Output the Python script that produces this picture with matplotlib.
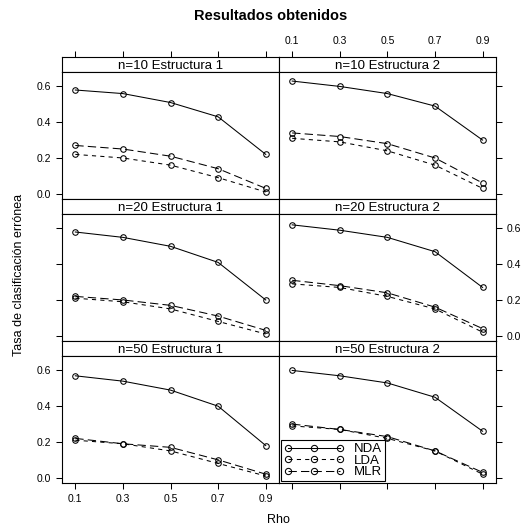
import matplotlib
matplotlib.use("Agg")
import matplotlib.pyplot as plt
from matplotlib.lines import Line2D

plt.rcParams['font.family'] = ['Liberation Sans', 'DejaVu Sans']
plt.rcParams['lines.scale_dashes'] = False

rho = [0.1, 0.3, 0.5, 0.7, 0.9]
metodos = ["NDA", "LDA", "MLR"]

# filas: n=10, n=20, n=50 ; columnas: Estructura 1, Estructura 2
titulos = [["n=10 Estructura 1", "n=10 Estructura 2"],
           ["n=20 Estructura 1", "n=20 Estructura 2"],
           ["n=50 Estructura 1", "n=50 Estructura 2"]]

nda_10_e1 = [0.58, 0.56, 0.51, 0.43, 0.22]
lda_10_e1 = [0.22, 0.20, 0.16, 0.09, 0.01]
mlr_10_e1 = [0.27, 0.25, 0.21, 0.14, 0.03]

nda_10_e2 = [0.63, 0.60, 0.56, 0.49, 0.30]
lda_10_e2 = [0.31, 0.29, 0.24, 0.16, 0.03]
mlr_10_e2 = [0.34, 0.32, 0.28, 0.20, 0.06]

nda_20_e1 = [0.58, 0.55, 0.50, 0.41, 0.20]
lda_20_e1 = [0.21, 0.19, 0.15, 0.08, 0.01]
mlr_20_e1 = [0.22, 0.20, 0.17, 0.11, 0.03]

nda_20_e2 = [0.62, 0.59, 0.55, 0.47, 0.27]
lda_20_e2 = [0.29, 0.27, 0.22, 0.15, 0.02]
mlr_20_e2 = [0.31, 0.28, 0.24, 0.16, 0.04]

nda_50_e1 = [0.57, 0.54, 0.49, 0.40, 0.18]
lda_50_e1 = [0.21, 0.19, 0.15, 0.08, 0.01]
mlr_50_e1 = [0.22, 0.19, 0.17, 0.10, 0.02]

nda_50_e2 = [0.60, 0.57, 0.53, 0.45, 0.26]
lda_50_e2 = [0.29, 0.27, 0.22, 0.15, 0.02]
mlr_50_e2 = [0.30, 0.27, 0.23, 0.15, 0.03]

datos = [[(nda_10_e1, lda_10_e1, mlr_10_e1), (nda_10_e2, lda_10_e2, mlr_10_e2)],
         [(nda_20_e1, lda_20_e1, mlr_20_e1), (nda_20_e2, lda_20_e2, mlr_20_e2)],
         [(nda_50_e1, lda_50_e1, mlr_50_e1), (nda_50_e2, lda_50_e2, mlr_50_e2)]]

estilos = [dict(linestyle='-'),
           dict(linestyle=(0, (3, 3))),
           dict(linestyle=(0, (6, 3)))]

W, H = 523, 529
fig = plt.figure(figsize=(W / 100, H / 100), dpi=100)

izq, der = 62, 495.7
arriba = 57.3
alto_fila = 142
alto_strip = 15
ancho_col = (der - izq) / 2

xlim = (0.044, 0.955)
ylim = (-0.031, 0.679)
yticks = [0.0, 0.2, 0.4, 0.6]
tick_kw = dict(direction='out', length=4.3, width=0.75, labelsize=7.5, pad=3.5)

def caja(x0, y0, w, h):
    return [x0 / W, 1 - (y0 + h) / H, w / W, h / H]

for i in range(3):
    for j in range(2):
        x0 = izq + j * ancho_col
        y_strip = arriba + i * alto_fila
        sax = fig.add_axes(caja(x0, y_strip, ancho_col, alto_strip))
        ax = fig.add_axes(caja(x0, y_strip + alto_strip, ancho_col, alto_fila - alto_strip))

        for sp in list(sax.spines.values()) + list(ax.spines.values()):
            sp.set_linewidth(0.8)
            sp.set_color('black')

        sax.set_xlim(xlim)
        sax.set_yticks([])
        sax.text(0.5, 0.45, titulos[i][j], transform=sax.transAxes,
                 ha='center', va='center', fontsize=9.5)
        if i == 0:
            sax.set_xticks(rho)
            sax.set_xticklabels([str(r) for r in rho])
            sax.tick_params(axis='x', top=True, bottom=False, labeltop=(j == 1),
                            labelbottom=False, **tick_kw)
        else:
            sax.set_xticks([])

        for serie, est in zip(datos[i][j], estilos):
            ax.plot(rho, serie, color='black', lw=0.75, marker='o', markersize=4,
                    markerfacecolor='none', markeredgewidth=0.75, **est)

        ax.set_xlim(xlim)
        ax.set_ylim(ylim)
        ax.set_xticks(rho)
        ax.set_xticklabels([str(r) for r in rho])
        ax.set_yticks(yticks)
        ax.set_yticklabels(["0.0", "0.2", "0.4", "0.6"])

        abajo = (i == 2)
        ax.tick_params(axis='x', bottom=abajo, top=False,
                       labelbottom=(abajo and j == 0), labeltop=False, **tick_kw)
        if j == 0:
            ax.tick_params(axis='y', left=True, right=False,
                           labelleft=(i != 1), labelright=False, **tick_kw)
        else:
            ax.tick_params(axis='y', left=False, right=True,
                           labelleft=False, labelright=(i == 1), **tick_kw)

        if i == 2 and j == 1:
            handles = [Line2D([], [], color='black', lw=0.75, marker='o', markersize=4.5,
                              markerfacecolor='none', markeredgewidth=0.75, **est)
                       for est in estilos]
            leg = ax.legend(handles, metodos, loc='lower left', numpoints=3,
                            handlelength=4.6, handletextpad=0.7, labelspacing=-0.05,
                            borderpad=0.22, borderaxespad=0.15, fontsize=9.5,
                            frameon=True, fancybox=False, framealpha=1,
                            edgecolor='black')
            leg.get_frame().set_linewidth(0.8)

fig.text(271 / W, 1 - 16 / H, "Resultados obtenidos", ha='center', va='center',
         fontsize=10.5, fontweight='bold')
fig.text(19.5 / W, 1 - 275 / H, "Tasa de clasificación errónea", rotation=90,
         ha='center', va='center', fontsize=9)
fig.text(278 / W, 1 - 520 / H, "Rho", ha='center', va='center', fontsize=9)

fig.savefig("out.png", dpi=100)
